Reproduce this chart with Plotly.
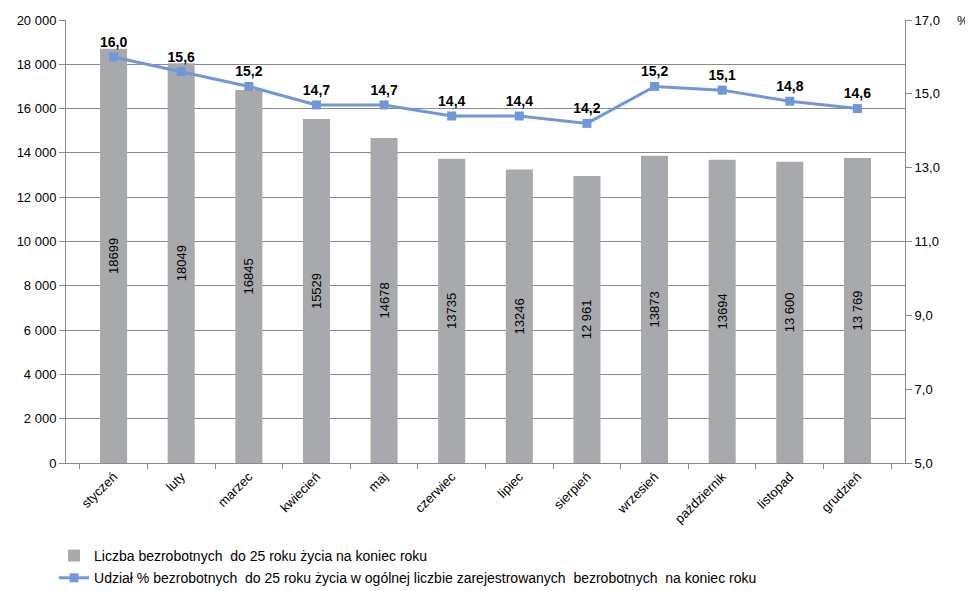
import plotly.graph_objects as go

months = ["styczeń", "luty", "marzec", "kwiecień", "maj", "czerwiec", "lipiec",
          "sierpień", "wrzesień", "październik", "listopad", "grudzień"]
counts = [18699, 18049, 16845, 15529, 14678, 13735, 13246, 12961, 13873, 13694, 13600, 13769]
count_labels = ["18699", "18049", "16845", "15529", "14678", "13735", "13246",
                "12 961", "13873", "13694", "13 600", "13 769"]
shares = [16.0, 15.6, 15.2, 14.7, 14.7, 14.4, 14.4, 14.2, 15.2, 15.1, 14.8, 14.6]
share_labels = ["16,0", "15,6", "15,2", "14,7", "14,7", "14,4", "14,4", "14,2",
                "15,2", "15,1", "14,8", "14,6"]
right_ticks = [5, 7, 9, 11, 13, 15, 17]

bar_name = "Liczba bezrobotnych  do 25 roku życia na koniec roku"
line_name = "Udział % bezrobotnych  do 25 roku życia w ogólnej liczbie zarejestrowanych  bezrobotnych  na koniec roku"

FONT = "Liberation Sans, Arial, sans-serif"
AX = "#8a8a8a"

fig = go.Figure()
fig.add_trace(go.Bar(
    x=months, y=counts, name=bar_name, legendgroup="a",
    marker=dict(color="#a7a9ac", line=dict(width=0)),
    width=0.4,
    text=count_labels, textposition="inside", insidetextanchor="middle",
    textangle=-90, textfont=dict(size=13, color="#000000", family=FONT),
    cliponaxis=False,
))
fig.add_trace(go.Scatter(
    x=months, y=shares, name=line_name, yaxis="y2", legendgroup="b",
    mode="lines+markers+text",
    line=dict(color="#7097d9", width=3),
    marker=dict(symbol="square", size=9, color="#7097d9"),
    text=["<b>%s</b>" % s for s in share_labels], textposition="top center",
    textfont=dict(size=14, color="#000000", family=FONT),
    cliponaxis=False,
))

# page body has an 8px margin, so the figure is 8px smaller and margins shifted
fig.update_layout(
    width=965, height=583,
    margin=dict(l=58, r=68, t=12, b=128, autoexpand=False),
    paper_bgcolor="white", plot_bgcolor="white",
    separators=", ",
    font=dict(family=FONT, size=13, color="#000000"),
    bargap=0.6,
    showlegend=True,
    legend=dict(orientation="v", xref="container", yref="container",
                x=0.0477, xanchor="left", y=0.0875, yanchor="top",
                font=dict(size=14, family=FONT), tracegroupgap=1,
                itemwidth=30, bgcolor="rgba(0,0,0,0)"),
    xaxis=dict(
        type="category", tickangle=-45, showgrid=False,
        showline=True, linecolor=AX, linewidth=1,
        ticks="outside", tickcolor=AX, ticklen=5, tickson="boundaries",
        tickfont=dict(size=13, family=FONT),
    ),
    yaxis=dict(
        range=[0, 20000], dtick=2000, tickformat=",d",
        showgrid=True, gridcolor=AX, gridwidth=1,
        showline=True, linecolor=AX, linewidth=1,
        ticks="outside", tickcolor=AX, ticklen=6,
        tickfont=dict(size=13, family=FONT), zeroline=False,
    ),
    yaxis2=dict(
        range=[5, 17], tickvals=right_ticks, tickformat=".1f", overlaying="y", side="right",
        showgrid=False, showline=True, linecolor=AX, linewidth=1,
        ticks="outside", tickcolor=AX, ticklen=6,
        tickfont=dict(size=13, family=FONT), zeroline=False,
    ),
)
fig.add_annotation(text="%", xref="paper", yref="paper", x=1.069, y=1.0,
                   xanchor="center", yanchor="middle", showarrow=False,
                   font=dict(size=13, family=FONT))

fig.write_html("out.html")
